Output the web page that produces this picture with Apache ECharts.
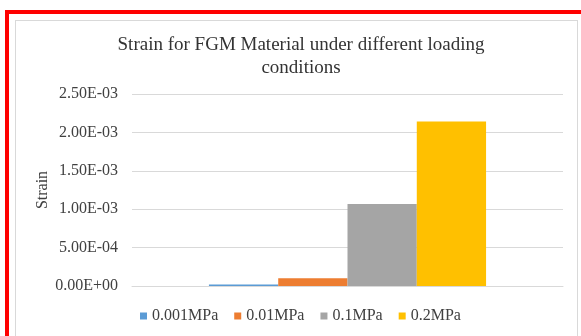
<!DOCTYPE html>
<html>
<head>
<meta charset="utf-8">
<script src="https://cdn.jsdelivr.net/npm/echarts@6/dist/echarts.min.js"></script>
<style>
html,body{margin:0;padding:0;background:#fff;overflow:hidden;}
#frame{position:absolute;left:5px;top:10px;width:600px;height:400px;border-top:4px solid #ff0000;border-left:4px solid #ff0000;}
#inner{position:absolute;left:15px;top:20px;width:561px;height:400px;border:1px solid #d9d9d9;}
#chart{position:absolute;left:0;top:0;width:581px;height:336px;}
</style>
</head>
<body>
<div id="frame"></div>
<div id="inner"></div>
<div id="chart"></div>
<script>
const categories = [''];
const seriesNames = ['0.001MPa', '0.01MPa', '0.1MPa', '0.2MPa'];
const seriesValues = [[0.00002], [0.000101], [0.001068], [0.002143]];
const seriesColors = ['#5B9BD5', '#ED7D31', '#A5A5A5', '#FFC000'];
const yTicks = { min: 0, max: 0.0025, interval: 0.0005 };

function fmtExp(v) {
  let s = Number(v).toExponential(2);
  let parts = s.split('e');
  let exp = parseInt(parts[1], 10);
  let sign = exp < 0 ? '-' : '+';
  let a = Math.abs(exp);
  return parts[0] + 'E' + sign + (a < 10 ? '0' + a : a);
}

const font = 'Liberation Serif, Times New Roman, serif';
const chart = echarts.init(document.getElementById('chart'), null, { renderer: 'canvas' });
chart.setOption({
  backgroundColor: 'transparent',
  animation: false,
  title: {
    text: 'Strain for FGM Material under different loading\nconditions',
    left: 296,
    top: 29,
    textAlign: 'center',
    textStyle: { fontFamily: font, fontSize: 19, fontWeight: 'normal', color: '#333', lineHeight: 23 }
  },
  legend: {
    top: 303,
    left: 135,
    icon: 'rect',
    itemWidth: 7,
    itemHeight: 7,
    itemGap: 16,
    textStyle: { fontFamily: font, fontSize: 16, color: '#404040', padding: [0, 0, 0, 0] },
    data: seriesNames
  },
  grid: { left: 132, right: 18, top: 94, bottom: 50, containLabel: false },
  xAxis: {
    type: 'category',
    data: categories,
    axisLine: { lineStyle: { color: '#d9d9d9' } },
    axisTick: { show: false },
    axisLabel: { show: false }
  },
  yAxis: {
    type: 'value',
    min: yTicks.min,
    max: yTicks.max,
    interval: yTicks.interval,
    name: 'Strain',
    nameLocation: 'middle',
    nameGap: 81,
    nameMoveOverlap: false,
    nameTextStyle: { fontFamily: font, fontSize: 16, color: '#404040' },
    axisLine: { show: false },
    axisTick: { show: false },
    axisLabel: { formatter: fmtExp, fontFamily: font, fontSize: 16, color: '#404040', margin: 14 },
    splitLine: { lineStyle: { color: '#d9d9d9', width: 1 } }
  },
  series: seriesNames.map((n, i) => ({
    name: n,
    type: 'bar',
    data: seriesValues[i],
    itemStyle: { color: seriesColors[i] },
    barGap: '0%',
    barCategoryGap: '35.7%'
  }))
});
</script>
</body>
</html>
